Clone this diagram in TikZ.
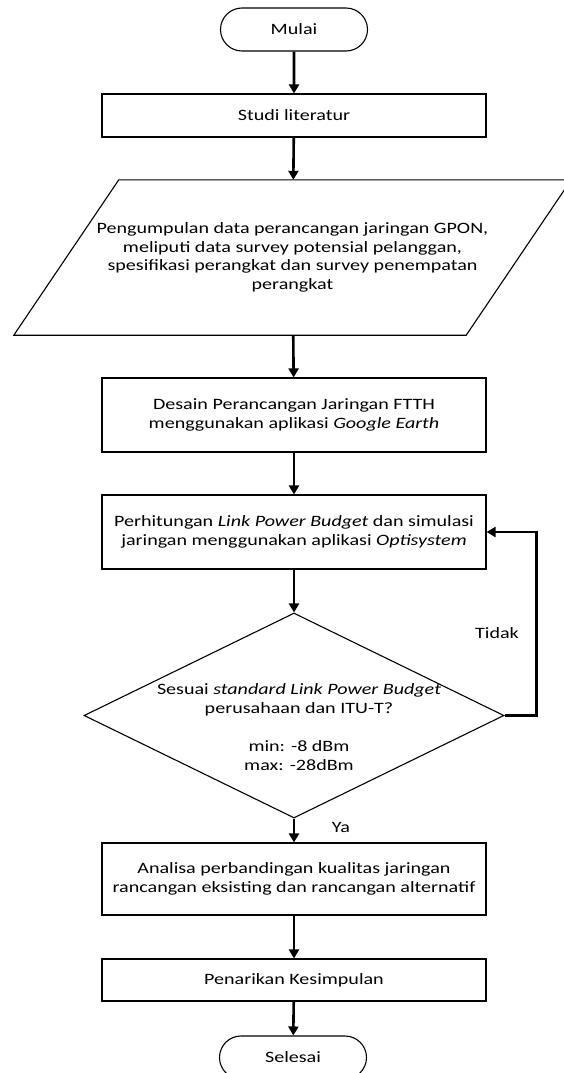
\documentclass[tikz,border=0pt]{standalone}
\usepackage{fontspec}
\setmainfont{Carlito}[FakeStretch=1.27]
\usetikzlibrary{shapes.geometric,shapes.misc,arrows.meta}

\begin{document}
\begin{tikzpicture}[x=1pt,y=-1pt,
    font=\fontsize{15.8pt}{18.5pt}\selectfont,
    terminal/.style={draw,line width=1.1pt,rounded rectangle,
      minimum width=147,minimum height=43,inner sep=0pt},
    proses/.style={draw,line width=1.1pt,rectangle,align=center,
      minimum width=384,inner sep=0pt},
    masukan/.style={rectangle,align=center,
      minimum width=557,minimum height=155,inner sep=0pt},
    keputusan/.style={draw,line width=1.1pt,diamond,
      minimum width=420,minimum height=205,inner sep=0pt},
    panah/.style={line width=2.6pt,-{Triangle[length=9pt,width=10pt]}}]
        \useasboundingbox (0,0) rectangle (564,1073);
        \clip (0,0) rectangle (564,1073);

        \node[terminal] (mulai) at (294,29.5) {Mulai};
        \node[proses,minimum height=43] (studi) at (294,115.5) {Studi literatur};
        \node[masukan] (data) at (292.5,257.5) {Pengumpulan data perancangan jaringan GPON,\\
          meliputi data survey potensial pelanggan,\\
          spesifikasi perangkat dan survey penempatan\\perangkat};
        % jajaran genjang untuk input data
        \draw[line width=1.1pt] ([xshift=105]data.north west) -- (data.north east)
          -- ([xshift=-105]data.south east) -- (data.south west) -- cycle;
        \node[proses,minimum height=74] (desain) at (294,415) {Desain Perancangan Jaringan FTTH\\
          menggunakan aplikasi \textit{Google Earth}};
        \node[proses,minimum height=74] (hitung) at (294,532) {Perhitungan \textit{Link Power Budget} dan simulasi\\
          jaringan menggunakan aplikasi \textit{Optisystem}};
        \node[keputusan] (cek) at (294,715.5) {};
        \node[align=center] (cekteks) at (299,727) {Sesuai \textit{standard Link Power Budget}\\
          perusahaan dan ITU-T?\\[20pt]min: -8 dBm\\max: -28dBm};
        \node[proses,minimum height=72] (analisa) at (294,879) {Analisa perbandingan kualitas jaringan\\
          rancangan eksisting dan rancangan alternatif};
        \node[proses,minimum height=42] (tarik) at (294,980) {Penarikan Kesimpulan};
        \node[terminal] (selesai) at (293,1057.5) {Selesai};

        \draw[panah] (mulai) -- (studi);
        \draw[panah] (studi) -- (data);
        \draw[panah] (data) -- (desain);
        \draw[panah] (desain) -- (hitung);
        \draw[panah] (hitung) -- (cek);
        \draw[panah] (cek) -- (analisa);
        \draw[panah] (analisa) -- (tarik);
        \draw[panah] (tarik) -- (selesai);
        \draw[panah] (cek.east) -- ++(32,0) |- (hitung.east);

        \node (tidak) at (497,633) {Tidak};
        \node (ya) at (341,827) {Ya};
      \end{tikzpicture}
\end{document}
